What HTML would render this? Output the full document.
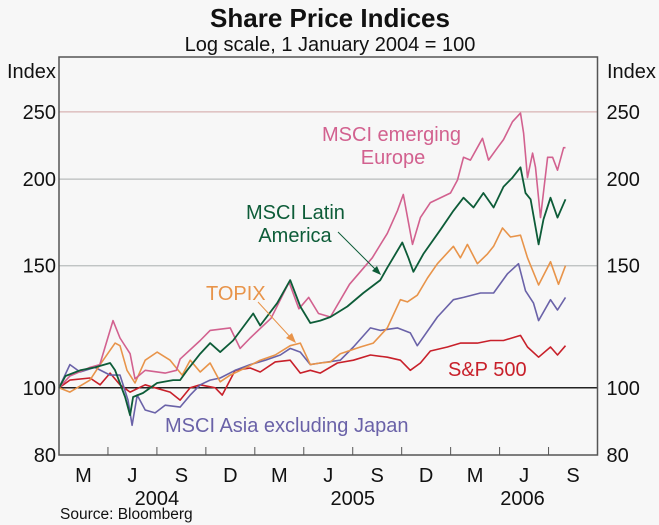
<!DOCTYPE html>
<html><head><meta charset="utf-8"><style>
html,body{margin:0;padding:0;background:#f7f7f7;}
svg{display:block;font-family:"Liberation Sans",sans-serif;}
</style></head><body>
<svg id="chart" width="659" height="525" viewBox="0 0 659 525" xmlns="http://www.w3.org/2000/svg">
<rect x="0" y="0" width="659" height="525" fill="#f7f7f7"/>
<text x="330" y="27" text-anchor="middle" font-size="26" font-weight="bold" fill="#111">Share Price Indices</text>
<text x="330" y="51" text-anchor="middle" font-size="20" fill="#111">Log scale, 1 January 2004 = 100</text>
<text x="7" y="78" font-size="20" fill="#111">Index</text>
<text x="607" y="78" font-size="20" fill="#111">Index</text>
<g id="grid"></g>
<g id="series"></g>
<rect x="59" y="57" width="538.5" height="398" fill="none" stroke="#555" stroke-width="1.5"/>
<g id="axes"></g>
<text x="322" y="141" font-size="20" fill="#d2618f">MSCI emerging</text>
<text x="393" y="164" text-anchor="middle" font-size="20" fill="#d2618f">Europe</text>
<text x="246" y="219" font-size="20" fill="#0d5c38">MSCI Latin</text>
<text x="295" y="242" text-anchor="middle" font-size="20" fill="#0d5c38">America</text>
<line x1="338" y1="232" x2="378" y2="272" stroke="#0d5c38" stroke-width="1"/>
<polygon points="381,275 372,271 377,266" fill="#0d5c38"/>
<text x="206" y="300" font-size="20" fill="#e8944a">TOPIX</text>
<line x1="258" y1="302" x2="292" y2="339" stroke="#e8944a" stroke-width="1"/>
<polygon points="296,343 286,338 292,333" fill="#e8944a"/>
<text x="448" y="376" font-size="20" fill="#c8202a">S&amp;P 500</text>
<text x="165" y="432" font-size="20" fill="#6a62a8">MSCI Asia excluding Japan</text>
<text x="60" y="519" font-size="15.5" fill="#111">Source: Bloomberg</text>
</svg>
<script>
// y ticks and x categories
const yTicks = [80, 100, 150, 200, 250];
const quarterLabels = ["M","J","S","D","M","J","S","D","M","J","S"];
const yearLabels = ["2004","2005","2006"];
const yearCenterMonths = [6, 18, 30];
// series data: months since 1 Jan 2004, index values
const europeT = [0,0.67,1.9,2.5,3.31,3.74,4.36,4.66,5.28,6.5,7.2,7.42,8.65,9.26,10.49,11.1,11.72,13.0,14.1,14.7,15.3,15.9,16.63,17.8,19.2,20.12,20.74,21.1,21.66,22.15,22.76,23.99,24.42,24.79,25.21,25.95,26.32,26.87,27.24,27.79,28.28,28.47,28.71,29.02,29.2,29.51,29.94,30.25,30.55,30.92,31.04];
const europeV = [100,104,107,108,125,118,112,103,106,105,106,110,117,121,122,114,118,126,142,130,135,128,126.5,141,154,167,180,190,161,176,185,191,199.4,215,213,229,213,222,228,242,249,233,201,218,208,176,215,215,206,222,222];
const latamT = [0,0.4,1.3,2.2,3.13,3.44,4.05,4.36,4.54,5.15,6.01,6.99,7.42,7.85,8.65,9.26,9.88,10.67,11.9,12.33,13.37,14.17,14.79,15.4,16.01,16.63,17.67,18.65,19.69,20.12,21.04,21.41,21.72,22.33,23.37,24.17,24.79,25.4,26.01,26.63,27.24,27.79,28.28,28.59,28.9,29.39,29.69,30.12,30.55,31.04];
const latamV = [100,104,106,107,108.6,106,97,91.3,97,98.3,101.6,102.6,102.6,106,112,116,112.6,117,128,123,132.5,143,131,124,125,126.5,131,137,143,149,162,154,147,156,169,180,188,182,191,182,195,201,208,191,187,161,175,188,176,187];
const topixT = [0,0.67,1.9,2.52,3.44,3.74,4.17,4.66,5.28,6.01,6.81,7.55,8.04,8.65,9.26,9.88,10.49,11.41,12.33,13.25,14.17,14.79,15.4,16.01,16.63,17.24,18.47,19.26,20.12,20.92,21.35,21.96,22.58,23.19,24.17,24.6,25.03,25.64,26.26,26.63,27.18,27.67,28.28,28.71,29.39,30.12,30.61,31.04];
const topixV = [100,98.6,102.6,108,116,115,106,101.6,109.6,112.6,109.6,104.3,109.6,105.4,108.6,102,104.3,106.8,109.6,111.5,115,116,108,108.6,109,112,114.5,116,122,134,133,136,144,151,160,154,161,151,156,160,170,165,166,154,140.7,152,141,150];
const asiaT = [0,0.67,1.29,2.2,3.13,3.74,4.23,4.48,4.79,5.28,5.89,6.5,7.42,8.04,8.65,9.26,9.88,10.8,11.72,12.64,13.56,14.17,14.79,15.4,16.01,17.24,18.04,19.08,19.69,20.74,21.53,21.96,23.19,24.17,24.79,25.83,26.63,27.48,28.16,28.59,29.08,29.39,30.12,30.55,31.04];
const asiaV = [100,108,105.4,107,104.3,104.3,96,88.3,97.6,92.9,92,94.4,93.8,97.6,101,102.6,103.3,106,108,109.6,111.5,114,112.6,108,108.6,109.6,114.5,122,121,122,120,115,126.5,134,135,137,137,146,151,138,132.5,125,134,129.5,135];
const spT = [0,0.67,1.9,2.52,3.13,3.74,4.36,5.28,5.89,6.81,7.42,8.04,8.65,9.57,10.0,10.8,11.72,12.33,13.25,14.17,14.79,15.4,16.01,17.06,18.04,19.08,20.12,20.92,21.53,22.15,22.76,23.8,24.6,25.64,26.44,27.24,28.28,28.71,29.39,30.12,30.55,31.04];
const spV = [100,102.6,103.3,101,105,101,98.6,101,100,98.6,96,100,101,100,97.6,106,106.8,105.4,109,109.6,105,106,105,108.6,109.6,111.5,110.7,109.6,106,108.6,113,114.5,116,116,117,117,119,114.5,110.7,114.5,111.5,115];

const NS = "http://www.w3.org/2000/svg";
const L = 59, R = 597.5, T = 57, B = 455;
const months = 33;
const yMin = 80, yMax = 300;
function xs(m){ return L + (R - L) * m / months; }
function ys(v){ return B - (B - T) * (Math.log(v) - Math.log(yMin)) / (Math.log(yMax) - Math.log(yMin)); }
function mk(tag, attrs){ const e = document.createElementNS(NS, tag); for (const k in attrs) e.setAttribute(k, attrs[k]); return e; }

const grid = document.getElementById('grid');
const axes = document.getElementById('axes');
yTicks.forEach(v => {
  const y = ys(v);
  if (v !== 80) {
    const col = v === 100 ? '#222' : (v === 250 ? '#d8b4b4' : '#b8bcbc');
    const ln = mk('line', {x1: L, x2: R, y1: y, y2: y, stroke: col, 'stroke-width': v === 100 ? 1.5 : 1.2});
    
    
    grid.appendChild(ln);
  }
  const tl = mk('text', {x: L - 3, y: y + 7, 'text-anchor': 'end', 'font-size': 20, fill: '#111'});
  tl.textContent = v;
  
  
  axes.appendChild(tl);
  const tr = mk('text', {x: R + 9, y: y + 7, 'font-size': 20, fill: '#111'});
  tr.textContent = v;
  
  
  axes.appendChild(tr);
});
quarterLabels.forEach((lab, i) => {
  if (i > 0) {
    const tk = mk('line', {x1: xs(i*3), x2: xs(i*3), y1: B, y2: B - 8, stroke: '#555', 'stroke-width': 1});
    
    
    axes.appendChild(tk);
  }
  const t = mk('text', {x: xs(i*3 + 1.5), y: B + 27, 'text-anchor': 'middle', 'font-size': 20, fill: '#111'});
  t.textContent = lab;
  
  
  axes.appendChild(t);
});
yearLabels.forEach((lab, i) => {
  const t = mk('text', {x: xs(yearCenterMonths[i]) - (i === 2 ? 26 : 0), y: B + 50, 'text-anchor': 'middle', 'font-size': 20, fill: '#111'});
  t.textContent = lab;
  
  
  axes.appendChild(t);
});

const seriesG = document.getElementById('series');
function drawLine(tArr, vArr, color, name, w){
  const d = tArr.map((t, i) => (i ? 'L' : 'M') + xs(t).toFixed(1) + ',' + ys(vArr[i]).toFixed(1)).join(' ');
  const p = mk('path', {d: d, fill: 'none', stroke: color, 'stroke-width': w, 'stroke-linejoin': 'round'});
  
  
  seriesG.appendChild(p);
}
drawLine(spT, spV, '#c8202a', 'line-sp500', 1.6);
drawLine(asiaT, asiaV, '#6a62a8', 'line-asia-ex-japan', 1.6);
drawLine(topixT, topixV, '#e8944a', 'line-topix', 1.6);
drawLine(europeT, europeV, '#d2618f', 'line-emerging-europe', 1.6);
drawLine(latamT, latamV, '#0d5c38', 'line-latin-america', 1.8);
</script>
</body></html>
